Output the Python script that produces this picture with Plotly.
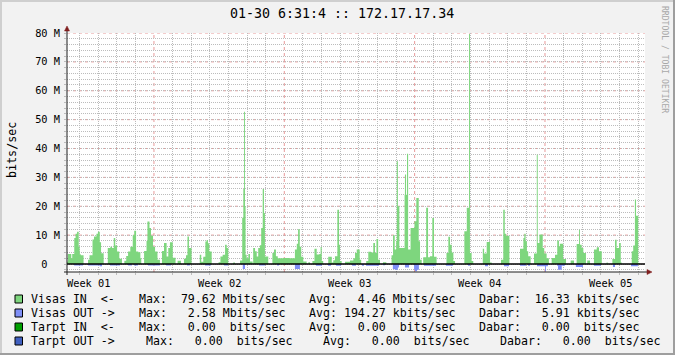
import plotly.graph_objects as go

# ---------------- data (time in days from the left edge of the graph) -------------
in_t = [0.00, 0.05, 0.23, 0.28, 0.39, 0.46, 0.54, 0.63, 0.68, 0.74, 0.89,
        1.13, 1.21, 1.37, 1.45, 1.58, 1.66, 1.76, 1.83, 1.97,
        2.19, 2.33, 2.42, 2.51, 2.59, 2.69, 2.81, 2.95,
        3.08, 3.18, 3.28, 3.40, 3.53, 3.61, 3.71, 3.83, 3.94, 3.99,
        4.14, 4.27, 4.32, 4.43, 4.51, 4.62, 4.73, 4.86, 4.99,
        5.10, 5.21, 5.35, 5.44, 5.53, 5.68, 5.83, 5.94, 6.12,
        6.28, 6.39, 6.47, 6.55, 6.69,
        7.13, 7.21, 7.32, 7.43, 7.50, 7.57, 7.64, 7.77,
        8.14, 8.24, 8.36, 8.49, 8.58, 8.66, 8.93, 9.02,
        9.29, 9.41, 9.47, 9.51, 9.56, 9.59, 9.65, 9.74, 9.83, 9.97,
        10.00, 10.10, 10.19, 10.27, 10.36, 10.43, 10.51, 10.58, 10.63, 10.81,
        11.03, 11.12, 11.22, 11.32, 11.60, 11.92, 12.24, 12.34, 12.41, 12.50,
        12.58, 12.69, 12.87, 12.96, 13.05,
        13.18, 13.29, 13.41, 13.55, 13.62, 13.68, 13.76,
        14.03, 14.22, 14.30, 14.39, 14.52, 14.61, 14.66, 14.75,
        14.93, 15.20, 15.38, 15.47, 15.56, 15.72, 15.80,
        16.07, 16.18, 16.33, 16.45, 16.54, 16.62, 16.71, 16.81, 16.97, 17.15,
        17.43, 17.51, 17.60, 17.68, 17.71, 17.77, 17.85, 18.13, 18.15, 18.21,
        18.26, 18.32, 18.45, 18.66, 18.76, 18.89, 18.96, 19.05,
        19.13, 19.29, 19.39, 19.49, 19.62, 19.71, 19.85,
        20.38, 20.48, 20.57, 20.66, 20.75, 20.84,
        21.34, 21.47, 21.59, 21.64, 21.73, 21.82,
        22.33, 22.40, 22.54, 22.72, 22.81,
        23.31, 23.43, 23.51, 23.58, 23.76,
        24.33, 24.51, 24.56, 24.63, 24.70, 24.77, 24.90,
        25.08, 25.23, 25.28, 25.37, 25.55, 25.63, 25.76, 25.88,
        26.03, 26.21, 26.33, 26.42, 26.47, 26.65, 26.80, 27.05, 27.23,
        27.37, 27.50, 27.55, 27.64, 27.73, 27.87, 27.94, 28.09,
        28.30, 28.45, 28.57, 28.72, 28.98, 29.04,
        29.29, 29.43, 29.52, 29.65, 29.74, 29.79,
        30.33, 30.41, 30.50, 30.56, 30.68, 30.77]
in_mbps = [0.8, 3.5, 2.0, 3.5, 9.0, 10.5, 11.2, 6.0, 3.4, 3.0, 0,
           1.5, 3.0, 8.5, 9.5, 10.5, 11.2, 7.5, 3.7, 0,
           5.5, 6.0, 5.5, 9.0, 6.4, 4.3, 1.8, 0,
           1.1, 2.8, 4.3, 6.0, 10.0, 11.5, 4.3, 4.1, 2.0, 0,
           4.5, 8.0, 14.7, 12.5, 9.8, 6.0, 4.3, 1.5, 0,
           4.5, 7.3, 2.6, 5.5, 7.5, 2.2, 0, 1.1, 0,
           1.8, 3.0, 9.5, 5.5, 0,
           3.2, 0.8, 2.5, 7.8, 8.3, 7.2, 4.3, 0,
           0.6, 2.6, 3.2, 6.7, 5.5, 0, 0.5, 0,
           1.2, 16.0, 26.0, 52.7, 20.0, 3.2, 2.0, 3.5, 0.9, 0,
           5.5, 4.4, 2.6, 5.5, 6.5, 12.5, 26.0, 17.7, 2.6, 0,
           3.8, 5.0, 2.7, 2.0, 2.1, 2.0, 5.0, 7.0, 12.0, 6.0,
           2.5, 0.9, 0, 0.6, 0,
           1.0, 5.3, 3.3, 3.5, 5.9, 1.0, 0,
           2.5, 0.5, 1.3, 2.7, 18.8, 6.7, 1.0, 0,
           0.8, 1.2, 2.0, 3.8, 5.0, 1.5, 0,
           1.0, 4.2, 4.0, 7.3, 3.8, 8.7, 1.5, 0, 0.6, 0,
           3.0, 10.0, 5.0, 8.0, 35.6, 20.0, 5.5, 24.0, 31.0, 24.0,
           38.2, 5.0, 12.5, 14.8, 22.9, 7.9, 1.5, 0,
           2.3, 19.5, 2.3, 2.7, 15.9, 2.5, 0,
           3.8, 9.4, 6.7, 4.0, 1.0, 0,
           11.3, 19.5, 79.62, 3.8, 1.0, 0,
           5.3, 3.6, 7.6, 0.5, 0,
           1.5, 18.8, 10.5, 9.8, 0,
           5.3, 9.0, 10.5, 7.9, 4.4, 2.7, 0,
           3.6, 37.8, 7.3, 10.2, 5.5, 3.6, 2.0, 0,
           2.1, 3.2, 8.1, 6.1, 7.0, 1.7, 0, 1.2, 0,
           6.9, 11.9, 6.7, 5.5, 3.8, 0, 1.2, 0,
           5.0, 5.8, 4.4, 0, 0.5, 0,
           1.7, 8.4, 5.5, 7.3, 0.5, 0,
           4.4, 6.4, 22.3, 16.7, 0.3, 0]

out_t = [0.38, 0.86, 1.13, 1.76, 1.88, 2.31, 2.85, 3.28, 3.49, 3.60, 3.81,
         4.35, 4.99, 5.32, 5.59, 6.44, 6.60, 7.41, 7.73, 8.43, 8.65,
         9.44, 9.56, 10.31, 10.63, 11.28, 11.39, 12.24, 12.51,
         13.37, 13.69, 14.02, 14.18, 14.45, 14.72, 15.31, 15.52, 15.84, 15.95,
         16.06, 16.76, 16.97, 17.08, 17.50, 17.60, 17.77, 17.83,
         18.15, 18.37, 18.64, 18.69, 18.80, 18.90, 19.17, 19.82,
         20.35, 20.73, 21.54, 21.64, 22.45, 22.61, 23.47, 23.74,
         24.33, 24.65, 24.76, 24.87, 25.24, 25.67, 25.72, 25.83,
         26.32, 26.37, 26.57, 26.74, 27.33, 27.71, 28.30, 28.68,
         29.32, 29.43, 30.29, 30.66]
out_mbps = [0.55, 0, 0.5, 0.8, 0, 0.5, 0, 0.5, 0, 0.5, 0,
            0.5, 0, 0.5, 0, 0.5, 0, 0.5, 0, 0.5, 0,
            1.7, 0, 0.5, 0, 0.5, 0, 1.7, 0,
            0.6, 0, 0.6, 0, 0.6, 0, 0.6, 0, 0.6, 0,
            0.6, 0, 0.4, 0, 1.7, 2.0, 1.2, 0,
            1.2, 0, 2.0, 2.5, 2.0, 0, 0.6, 0,
            0.6, 0, 0.6, 0, 0.8, 0, 0.8, 0,
            0.6, 0, 0.6, 0, 0.8, 2.58, 0.8, 0,
            0.6, 2.0, 0.6, 0, 1.0, 0, 0.6, 0,
            1.0, 0, 0.8, 0]

week_label_days = [1.17, 8.17, 15.17, 22.17, 29.17]
week_labels = ["Week 01", "Week 02", "Week 03", "Week 04", "Week 05"]
y_tick_vals = [0, 10, 20, 30, 40, 50, 60, 70, 80]
y_tick_text = ["0\u00a0\u00a0", "10 M", "20 M", "30 M", "40 M", "50 M", "60 M", "70 M", "80 M"]

legend_names = ["Visas IN  <-", "Visas OUT ->", "Tarpt IN  <-", "Tarpt OUT ->"]
legend_max = ["Max:  79.62 Mbits/sec", "Max:   2.58 Mbits/sec", "Max:   0.00  bits/sec", "Max:   0.00  bits/sec"]
legend_avg = ["Avg:   4.46 Mbits/sec", "Avg: 194.27 kbits/sec", "Avg:   0.00  bits/sec", "Avg:   0.00  bits/sec"]
legend_now = ["Dabar:  16.33 kbits/sec", "Dabar:   5.91 kbits/sec", "Dabar:   0.00  bits/sec", "Dabar:   0.00  bits/sec"]
title_text = "01-30 6:31:4 :: 172.17.17.34"

# ---------------- style ----------------
W, H = 675, 355
L, R, T, B = 67, 30, 33, 83
PW, PH = W - L - R, H - T - B
PX_PER_DAY = 18.62
PX_PER_M = 2.8875
XR = [0, PW / PX_PER_DAY]
YR = [80 - PH / PX_PER_M, 80]
MONO = "DejaVu Sans Mono"
BACK = "#F2F2F2"
SHADEA = "#CFCFCF"
SHADEB = "#9E9E9E"
GRID = "#BCBCBC"
MGRID = "#E89A9A"
ARROW = "#801F1F"
AXIS = "#1F1F1F"
C_IN = "#7ED67E"
C_OUT = "#7F8FF6"
C_TIN = "#00A000"
C_TOUT = "#4060C0"
legend_colors = [C_IN, C_OUT, C_TIN, C_TOUT]

# grid positions (style): days start at .67, weeks start every 7 days from 4.67
major_x = [4.67, 11.67, 18.67, 25.67]
minor_x = [0.67 + k for k in range(31) if (k - 4) % 7 != 0]
minor_y = [v for v in range(-2, 80, 2) if v % 10 != 0]


def X(px):
    return (px - L) / PW


def Y(py):
    return (T + PH - py) / PH


fig = go.Figure()
fig.add_trace(go.Scatter(x=in_t, y=in_mbps, mode="lines", line=dict(shape="hv", width=0),
                         fill="tozeroy", fillcolor=C_IN, hoverinfo="skip", showlegend=False))
fig.add_trace(go.Scatter(x=out_t, y=[-v for v in out_mbps], mode="lines", line=dict(shape="hv", width=0),
                         fill="tozeroy", fillcolor=C_OUT, hoverinfo="skip", showlegend=False))

shapes = []
# 3d border
shapes.append(dict(type="rect", xref="paper", yref="paper", x0=X(0), x1=X(W), y0=Y(2), y1=Y(0),
                   fillcolor=SHADEA, line_width=0, layer="below"))
shapes.append(dict(type="rect", xref="paper", yref="paper", x0=X(0), x1=X(2), y0=Y(H), y1=Y(0),
                   fillcolor=SHADEA, line_width=0, layer="below"))
shapes.append(dict(type="rect", xref="paper", yref="paper", x0=X(0), x1=X(W), y0=Y(H), y1=Y(H - 2),
                   fillcolor=SHADEB, line_width=0, layer="below"))
shapes.append(dict(type="rect", xref="paper", yref="paper", x0=X(W - 2), x1=X(W), y0=Y(H), y1=Y(0),
                   fillcolor=SHADEB, line_width=0, layer="below"))
# major (weekly / 10 M) grid lines, dotted, behind the data
for d in major_x:
    shapes.append(dict(type="line", xref="x", yref="paper", x0=d, x1=d, y0=0, y1=1,
                       line=dict(color=MGRID, width=1, dash="dot"), layer="below"))
for v in y_tick_vals[1:]:
    shapes.append(dict(type="line", xref="paper", yref="y", x0=0, x1=1, y0=v, y1=v,
                       line=dict(color=MGRID, width=1, dash="dot"), layer="below"))
# zero line
shapes.append(dict(type="line", xref="paper", yref="y", x0=0, x1=1, y0=0, y1=0,
                   line=dict(color="#000000", width=1.5), layer="above"))
# axes
shapes.append(dict(type="line", xref="paper", yref="paper", x0=X(67), x1=X(67), y0=Y(275), y1=Y(30),
                   line=dict(color=AXIS, width=1), layer="above"))
shapes.append(dict(type="line", xref="paper", yref="paper", x0=X(64), x1=X(648), y0=Y(272), y1=Y(272),
                   line=dict(color=AXIS, width=1), layer="above"))
shapes.append(dict(type="path", xref="paper", yref="paper",
                   path=f"M {X(64.5)} {Y(31)} L {X(69.5)} {Y(31)} L {X(67)} {Y(26)} Z",
                   fillcolor=ARROW, line=dict(color=ARROW, width=0.5), layer="above"))
shapes.append(dict(type="path", xref="paper", yref="paper",
                   path=f"M {X(647)} {Y(269.5)} L {X(647)} {Y(274.5)} L {X(652)} {Y(272)} Z",
                   fillcolor=ARROW, line=dict(color=ARROW, width=0.5), layer="above"))
# legend squares
row_y = [299, 313, 327, 341]
for c, ry in zip(legend_colors, row_y):
    shapes.append(dict(type="rect", xref="paper", yref="paper", x0=X(15), x1=X(22.5),
                       y0=Y(ry + 4), y1=Y(ry - 4), fillcolor=c, line=dict(color="#000000", width=1)))

ann = []


def text(t, px, py, size, color="#000000", xanchor="left", angle=0):
    ann.append(dict(text=t.replace(" ", "\u00a0"), x=X(px), y=Y(py), xref="paper", yref="paper",
                    showarrow=False, xanchor=xanchor, yanchor="middle", textangle=angle,
                    font=dict(family=MONO, size=size, color=color), borderpad=0))


text(title_text, 342, 13.5, 13.3, xanchor="center")
text("bits/sec", 12, 150, 11.7, xanchor="center", angle=-90)
text("RRDTOOL / TOBI OETIKER", 665, 59, 8.1, color="#A8A8A8", xanchor="center", angle=90)

col_x = [[30, 138, 308, 477.6]] * 3 + [[30, 145, 322, 499]]
for i in range(4):
    items = [legend_names[i], legend_max[i], legend_avg[i], legend_now[i]]
    for s, cx in zip(items, col_x[i]):
        text(s, cx, row_y[i], 11.6)

for d, lab in zip(week_label_days, week_labels):
    ann.append(dict(text=lab, x=d, y=Y(283), xref="x", yref="paper", showarrow=False,
                    xanchor="center", yanchor="middle", font=dict(family=MONO, size=10.3, color="#000000")))

fig.update_layout(
    width=W, height=H, margin=dict(l=L, r=R, t=T, b=B, pad=0),
    paper_bgcolor=BACK, plot_bgcolor="#FFFFFF",
    showlegend=False, shapes=shapes, annotations=ann,
    xaxis=dict(range=XR, tickmode="array", tickvals=minor_x, showgrid=True, gridcolor=GRID,
               griddash="1px,1px", gridwidth=1, showticklabels=False, ticks="outside", ticklen=2,
               tickcolor=GRID, zeroline=False, showline=False, fixedrange=True),
    yaxis=dict(range=YR, tickmode="array", tickvals=y_tick_vals + minor_y,
               ticktext=y_tick_text + [""] * len(minor_y),
               showgrid=True, gridcolor=GRID, griddash="1px,1px", gridwidth=1,
               ticks="outside", ticklen=2, tickcolor=GRID, ticklabelstandoff=2,
               tickfont=dict(family=MONO, size=10.3, color="#000000"),
               zeroline=False, showline=False, fixedrange=True),
)

fig.write_html("out.html")
